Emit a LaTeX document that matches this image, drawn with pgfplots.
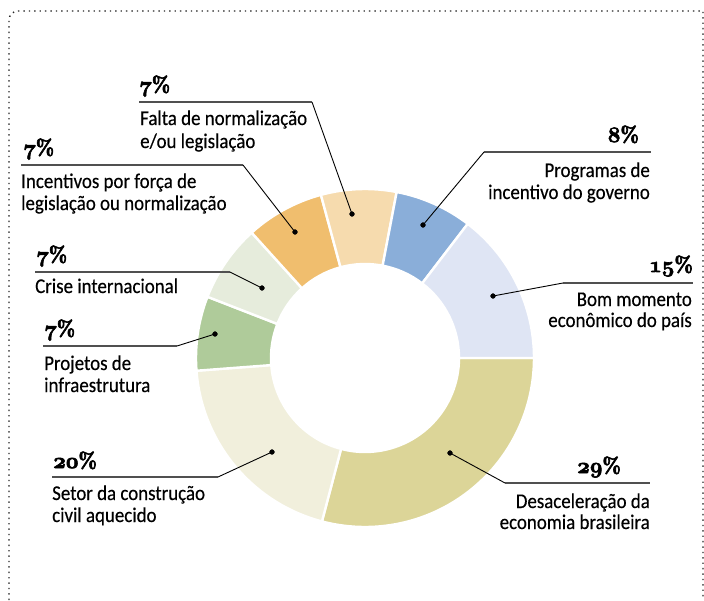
\RequirePackage{fix-cm}
\documentclass[border=0pt]{standalone}
\usepackage{fontspec}
\setmainfont{Carlito}[FakeStretch=0.9,FakeBold=0.35]
\usepackage{pgfplots}
\pgfplotsset{compat=1.18}
\definecolor{cDes}{RGB}{220,213,152}
\definecolor{cSet}{RGB}{241,239,220}
\definecolor{cPro}{RGB}{175,203,154}
\definecolor{cCri}{RGB}{230,236,220}
\definecolor{cInc}{RGB}{240,190,110}
\definecolor{cFal}{RGB}{246,219,174}
\definecolor{cPrg}{RGB}{138,174,217}
\definecolor{cBom}{RGB}{223,229,244}
\definecolor{rule}{RGB}{80,80,80}
\newcommand\lbl{\fontsize{21}{22}\selectfont}
\newcommand\pct[1]{{\fontsize{22}{22}\selectfont\special{pdf:literal direct 2 Tr 0.6 w}{\boldmath$\mathnormal{#1}$}{\fontfamily{lmr}\bfseries\selectfont\%}\special{pdf:literal direct 0 Tr}}}
\begin{document}
\begin{tikzpicture}
\begin{axis}[
  width=704pt, height=600pt, scale only axis,
  xmin=0, xmax=704, ymin=0, ymax=600, y dir=reverse,
  hide axis, clip=true,
]
\path (axis cs:0,0) rectangle (axis cs:704,600);
% dotted frame
\draw[black!85, line width=1.4pt, dash pattern=on 1.4pt off 4pt]
  (axis cs:9,600) -- (axis cs:9,20) arc[start angle=180,end angle=90,radius=9pt] -- (axis cs:703,11) -- (axis cs:703,600);
% donut slices (percent values, clockwise from 3 o'clock)
\gdef\angstart{0}
\foreach \v/\c in {29.1/cDes,19.7/cSet,7.1/cPro,7.4/cCri,7.5/cInc,7.2/cFal,7.4/cPrg,14.6/cBom}{
  \pgfmathsetmacro\angend{\angstart-3.6*\v}
  \edef\temp{\noexpand\fill[\c,draw=white,line width=2.4pt] (axis cs:365,358) ++(\angstart:169pt) arc[start angle=\angstart,end angle=\angend,radius=169pt] -- ++(\angend:-75pt) arc[start angle=\angend,end angle=\angstart,radius=94pt] -- cycle;}
  \temp
  \global\let\angstart\angend
}
% horizontal rules
\addplot[rule, line width=1.2pt] coordinates {(139,102) (312,102)};
\addplot[rule, line width=1.2pt] coordinates {(21,165) (243,165)};
\addplot[rule, line width=1.2pt] coordinates {(35,272) (230,272)};
\addplot[rule, line width=1.2pt] coordinates {(43,346) (177,346)};
\addplot[rule, line width=1.2pt] coordinates {(52,477) (218,477)};
\addplot[rule, line width=1.2pt] coordinates {(484,152) (651,152)};
\addplot[rule, line width=1.2pt] coordinates {(563,283) (693,283)};
\addplot[rule, line width=1.2pt] coordinates {(505,483) (650,483)};
% leader diagonals
\addplot[black, line width=0.9pt] coordinates {(312,102) (352,214)};
\addplot[black, line width=0.9pt] coordinates {(243,165) (295,232)};
\addplot[black, line width=0.9pt] coordinates {(230,272) (262,288)};
\addplot[black, line width=0.9pt] coordinates {(177,346) (215,334)};
\addplot[black, line width=0.9pt] coordinates {(218,477) (272,452)};
\addplot[black, line width=0.9pt] coordinates {(484,152) (423,225)};
\addplot[black, line width=0.9pt] coordinates {(563,283) (493,296)};
\addplot[black, line width=0.9pt] coordinates {(505,483) (450,453)};
% dots
\addplot[only marks, mark=*, mark size=2.4pt, black] coordinates {
  (352,214) (295,232) (262,288) (215,334) (272,452) (423,225) (493,296) (450,453)};
% percentages
\node[anchor=base west, inner sep=0] at (axis cs:139,92) {\pct{7}};
\node[anchor=base west, inner sep=0] at (axis cs:23,155) {\pct{7}};
\node[anchor=base west, inner sep=0] at (axis cs:36,262) {\pct{7}};
\node[anchor=base west, inner sep=0] at (axis cs:44,336) {\pct{7}};
\node[anchor=base west, inner sep=0] at (axis cs:53,468) {\pct{20}};
\node[anchor=base east, inner sep=0] at (axis cs:639,142) {\pct{8}};
\node[anchor=base east, inner sep=0] at (axis cs:693,272) {\pct{15}};
\node[anchor=base east, inner sep=0] at (axis cs:621,473) {\pct{29}};
% labels
\node[anchor=base west, inner sep=0, font=\lbl] at (axis cs:140,125) {Falta de normalização};
\node[anchor=base west, inner sep=0, font=\lbl] at (axis cs:140,148) {e/ou legislação};
\node[anchor=base west, inner sep=0, font=\lbl] at (axis cs:21,188) {Incentivos por força de};
\node[anchor=base west, inner sep=0, font=\lbl] at (axis cs:21,210) {legislação ou normalização};
\node[anchor=base west, inner sep=0, font=\lbl] at (axis cs:35,293) {Crise internacional};
\node[anchor=base west, inner sep=0, font=\lbl] at (axis cs:44,370) {Projetos de};
\node[anchor=base west, inner sep=0, font=\lbl] at (axis cs:44,392) {infraestrutura};
\node[anchor=base west, inner sep=0, font=\lbl] at (axis cs:52,500) {Setor da construção};
\node[anchor=base west, inner sep=0, font=\lbl] at (axis cs:52,522) {civil aquecido};
\node[anchor=base east, inner sep=0, font=\lbl] at (axis cs:650,177) {Programas de};
\node[anchor=base east, inner sep=0, font=\lbl] at (axis cs:650,199) {incentivo do governo};
\node[anchor=base east, inner sep=0, font=\lbl] at (axis cs:692,306) {Bom momento};
\node[anchor=base east, inner sep=0, font=\lbl] at (axis cs:692,327) {econômico do país};
\node[anchor=base east, inner sep=0, font=\lbl] at (axis cs:650,508) {Desaceleração da};
\node[anchor=base east, inner sep=0, font=\lbl] at (axis cs:650,529) {economia brasileira};
\end{axis}
\end{tikzpicture}
\end{document}
